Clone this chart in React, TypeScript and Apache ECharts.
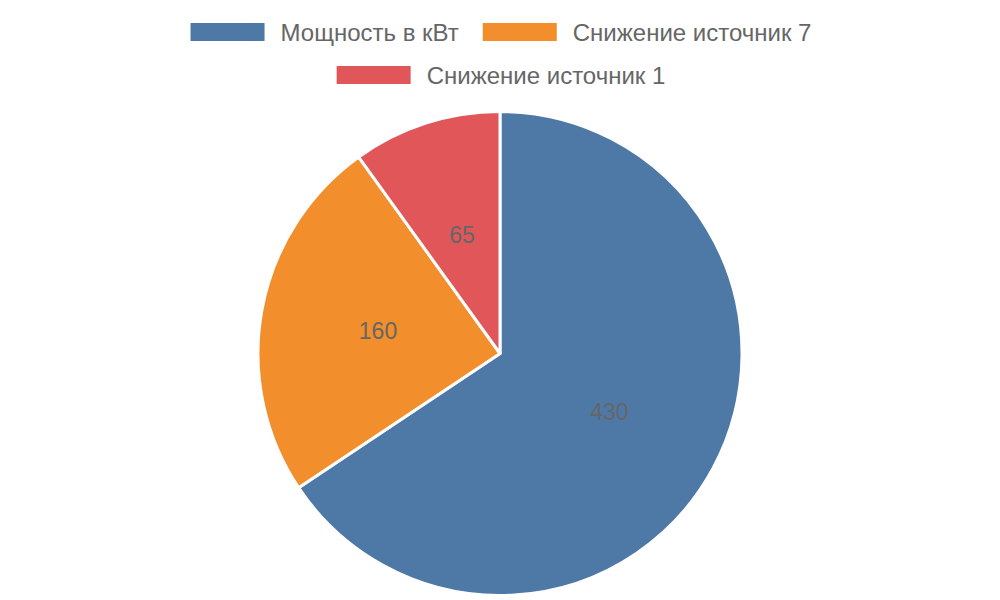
import * as echarts from "echarts"
import { useEffect, useRef } from "react"

const names = ["Мощность в кВт", "Снижение источник 7", "Снижение источник 1"]
const values = [430, 160, 65]
const colors = ["#4e79a7", "#f28e2b", "#e15759"]

const FONT = "'Liberation Sans', Arial, sans-serif"

export default function App(): React.ReactElement {
  const ref = useRef<HTMLDivElement>(null)

  useEffect(() => {
    const node = ref.current
    if (!node) return
    const chart = echarts.init(node, undefined, { renderer: "svg" })

    const legendText = {
      fontSize: 24,
      color: "#666",
      fontFamily: FONT,
      padding: [0, 0, 0, 10],
    }

    chart.setOption({
      animation: false,
      backgroundColor: "#fff",
      color: colors,
      legend: [
        {
          data: names.slice(0, 2),
          top: 15,
          left: "center",
          icon: "rect",
          itemWidth: 76,
          itemHeight: 20,
          itemGap: 22,
          textStyle: legendText,
        },
        {
          data: names.slice(2),
          top: 58,
          left: "center",
          icon: "rect",
          itemWidth: 76,
          itemHeight: 20,
          textStyle: legendText,
        },
      ],
      series: [
        {
          type: "pie",
          center: [500, 353.5],
          radius: 242,
          startAngle: 90,
          clockwise: true,
          label: {
            show: true,
            position: "inside",
            formatter: "{c}",
            fontSize: 23,
            color: "#666",
            fontFamily: FONT,
          },
          labelLine: { show: false },
          itemStyle: { borderColor: "#fff", borderWidth: 3 },
          emphasis: { disabled: true },
          data: names.map((n, i) => ({ name: n, value: values[i] })),
        },
      ],
    })

    return () => chart.dispose()
  }, [])

  return (
    <div
      ref={ref}
      style={{ width: 1000, height: 600, position: "absolute", left: 0, top: 0 }}
    />
  )
}
